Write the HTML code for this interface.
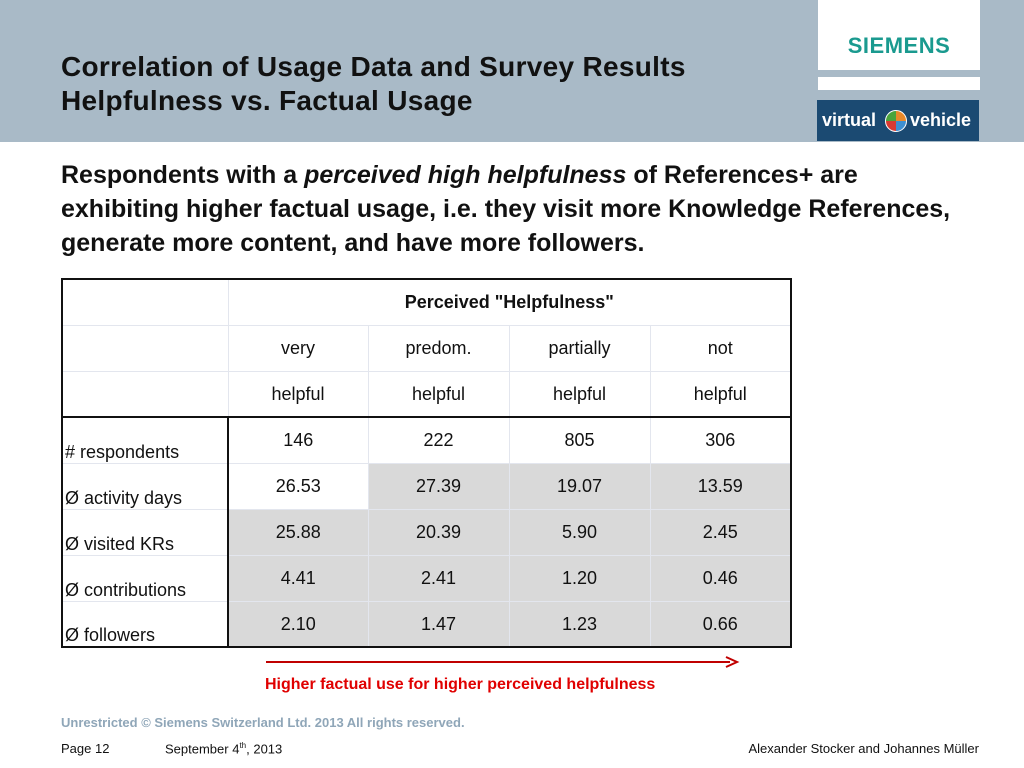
<!DOCTYPE html>
<html><head><meta charset="utf-8"><style>
body{margin:0;width:1024px;height:768px;position:relative;background:#fff;font-family:"Liberation Sans",Arial,sans-serif;overflow:hidden}
.a{position:absolute}
table{position:absolute;left:61px;top:278px;border-collapse:collapse;font-size:18px;color:#111;table-layout:fixed}
td{padding:0;height:46px;box-sizing:border-box;border:1px solid #e3e6ee;text-align:center;vertical-align:middle;line-height:20px;overflow:hidden}
td.l{text-align:left;vertical-align:bottom;padding-left:2px;padding-bottom:1px}
td.v{vertical-align:top;padding-top:12px}
.g{background:#d9d9d9}
</style></head><body>
<div class="a" style="left:0;top:0;width:1024px;height:142px;background:#a9bac7"></div>
<div class="a" style="left:61px;top:50px;font-size:28px;font-weight:bold;color:#111;line-height:34px;letter-spacing:0.3px">Correlation of Usage Data and Survey Results<br>Helpfulness vs. Factual Usage</div>
<div class="a" style="left:818px;top:0;width:162px;height:70px;background:#fff"></div>
<div class="a" style="left:818px;top:33px;width:162px;text-align:center;font-size:22px;font-weight:bold;color:#1a9a8f;letter-spacing:0.5px">SIEMENS</div>
<div class="a" style="left:818px;top:77px;width:162px;height:13px;background:#fff"></div>
<div class="a" style="left:817px;top:100px;width:162px;height:41px;background:#1b4a72;color:#fff;font-size:18px;font-weight:bold;line-height:41px">
<span style="position:absolute;left:5px">virtual</span>
<span style="position:absolute;left:68px;top:10px;width:20px;height:20px;border-radius:50%;background:conic-gradient(#e8892a 0 25%,#3e8fd0 0 50%,#d93a32 0 75%,#4aa43c 0);border:1px solid #fff"></span>
<span style="position:absolute;left:93px">vehicle</span></div>
<div class="a" style="left:61px;top:158px;font-size:25px;font-weight:bold;color:#111;line-height:34px;white-space:nowrap">Respondents with a <i>perceived high helpfulness</i> of References+ are<br>exhibiting higher factual usage, i.e. they visit more Knowledge References,<br>generate more content, and have more followers.</div>
<table style="border:2px solid #111;width:729px">
<colgroup><col style="width:166px"><col style="width:140px"><col style="width:141px"><col style="width:141px"><col style="width:141px"></colgroup>
<tr><td></td><td colspan="4" style="font-weight:bold">Perceived "Helpfulness"</td></tr>
<tr><td></td><td>very</td><td>predom.</td><td>partially</td><td>not</td></tr>
<tr style="border-bottom:2px solid #111"><td></td><td>helpful</td><td>helpful</td><td>helpful</td><td>helpful</td></tr>
<tr><td class="l" style="border-right:2px solid #111">#&nbsp;respondents</td><td class="v">146</td><td class="v">222</td><td class="v">805</td><td class="v">306</td></tr>
<tr><td class="l" style="border-right:2px solid #111">Ø activity days</td><td class="v">26.53</td><td class="v g">27.39</td><td class="v g">19.07</td><td class="v g">13.59</td></tr>
<tr><td class="l" style="border-right:2px solid #111">Ø visited KRs</td><td class="v g">25.88</td><td class="v g">20.39</td><td class="v g">5.90</td><td class="v g">2.45</td></tr>
<tr><td class="l" style="border-right:2px solid #111">Ø contributions</td><td class="v g">4.41</td><td class="v g">2.41</td><td class="v g">1.20</td><td class="v g">0.46</td></tr>
<tr><td class="l" style="border-right:2px solid #111">Ø followers</td><td class="v g">2.10</td><td class="v g">1.47</td><td class="v g">1.23</td><td class="v g">0.66</td></tr>
</table>
<svg class="a" style="left:260px;top:654px" width="490" height="16"><line x1="6" y1="8" x2="470" y2="8" stroke="#c00000" stroke-width="2"/><path d="M466 3 L477 8 L466 13" fill="none" stroke="#c00000" stroke-width="2"/></svg>
<div class="a" style="left:265px;top:676px;font-size:16px;font-weight:bold;color:#e00000">Higher factual use for higher perceived helpfulness</div>
<div class="a" style="left:61px;top:715px;font-size:13px;font-weight:bold;color:#8fa6b8">Unrestricted © Siemens Switzerland Ltd. 2013 All rights reserved.</div>
<div class="a" style="left:61px;top:741px;font-size:13px;color:#111">Page 12</div>
<div class="a" style="left:165px;top:741px;font-size:13px;color:#111">September 4<sup style="font-size:8px">th</sup>, 2013</div>
<div class="a" style="right:45px;top:741px;font-size:13px;color:#111">Alexander Stocker and Johannes Müller</div>
</body></html>
